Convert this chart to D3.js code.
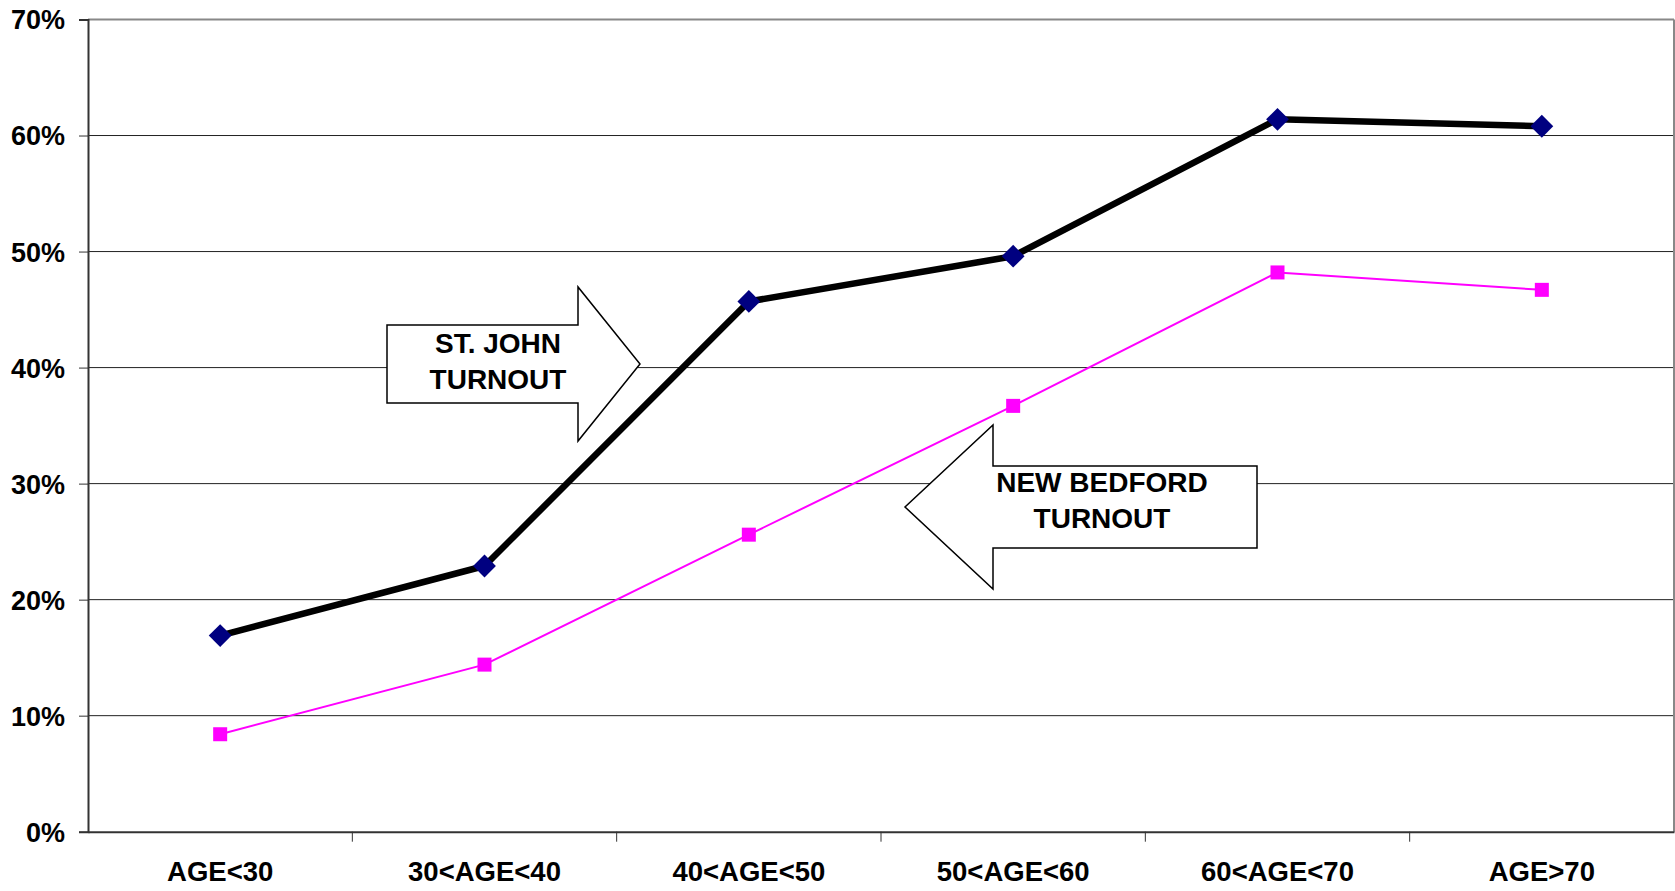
<!DOCTYPE html>
<html lang="en">
  <head>
    <meta charset="UTF-8" />
    <title>Turnout by age</title>
    <style>
      body { margin: 0; background: #fff; }
      svg text { font-family: "Liberation Sans", Arial, sans-serif; font-weight: bold; }
    </style>
  </head>
  <body>
  <script src="https://d3js.org/d3.v7.min.js"></script>
  <script>

var categories = ["AGE<30", "30<AGE<40", "40<AGE<50", "50<AGE<60", "60<AGE<70", "AGE>70"];
var stJohn = [0.169, 0.229, 0.457, 0.496, 0.614, 0.608];
var newBedford = [0.084, 0.144, 0.256, 0.367, 0.482, 0.467];
var yTicks = [0, 0.1, 0.2, 0.3, 0.4, 0.5, 0.6, 0.7];

var w = 1675, h = 891;
var plotLeft = 88, plotRight = 1674, plotTop = 19.5, plotBottom = 831.7;

var svg = d3.select("body").append("svg")
            .attr("width", w)
            .attr("height", h);

var x = d3.scaleBand().domain(categories).range([plotLeft, plotRight]).padding(0);
var y = d3.scaleLinear().domain([0, 0.7]).range([plotBottom, plotTop]);

// gridlines
svg.selectAll("line.grid")
   .data(yTicks.slice(1, -1))
   .enter()
   .append("line")
   .attr("class", "grid")
   .attr("x1", plotLeft).attr("x2", plotRight)
   .attr("y1", function(d) { return y(d); })
   .attr("y2", function(d) { return y(d); })
   .attr("stroke", "#222")
   .attr("stroke-width", 1);

// plot frame top / right
svg.append("line").attr("x1", plotLeft).attr("x2", plotRight).attr("y1", plotTop).attr("y2", plotTop)
   .attr("stroke", "#888").attr("stroke-width", 2);
svg.append("line").attr("x1", plotRight).attr("x2", plotRight).attr("y1", plotTop).attr("y2", plotBottom)
   .attr("stroke", "#888").attr("stroke-width", 2);

// y axis
var yAxis = d3.axisLeft(y).tickValues(yTicks).tickFormat(d3.format(".0%")).tickSize(9).tickPadding(14);
var gy = svg.append("g").attr("transform", "translate(" + plotLeft + ",0)").call(yAxis);
gy.select(".domain").attr("stroke", "#333").attr("stroke-width", 2);
gy.selectAll(".tick line").attr("stroke", "#333");
gy.selectAll("text").style("font-size", "27px").attr("fill", "#000").attr("dy", "0.35em");

// x axis
var xAxis = d3.axisBottom(x).tickSize(0).tickPadding(30);
var gx = svg.append("g").attr("transform", "translate(0," + plotBottom + ")").call(xAxis);
gx.select(".domain").attr("stroke", "#333").attr("stroke-width", 2);
gx.selectAll("text").style("font-size", "27.5px").attr("fill", "#000");
gx.selectAll("line.sep")
  .data(categories.slice(1))
  .enter()
  .append("line")
  .attr("class", "sep")
  .attr("x1", function(d) { return x(d); })
  .attr("x2", function(d) { return x(d); })
  .attr("y1", 0).attr("y2", 10)
  .attr("stroke", "#333");

function cx(d, i) { return x(categories[i]) + x.bandwidth() / 2; }

var line = d3.line().x(cx).y(function(d) { return y(d); });

// New Bedford
svg.append("path").datum(newBedford)
   .attr("d", line).attr("fill", "none")
   .attr("stroke", "#ff00ff").attr("stroke-width", 2);
svg.selectAll("rect.nb")
   .data(newBedford)
   .enter()
   .append("rect")
   .attr("class", "nb")
   .attr("x", function(d, i) { return cx(d, i) - 7; })
   .attr("y", function(d) { return y(d) - 7; })
   .attr("width", 14).attr("height", 14)
   .attr("fill", "#ff00ff");

// St. John
svg.append("path").datum(stJohn)
   .attr("d", line).attr("fill", "none")
   .attr("stroke", "#000").attr("stroke-width", 6.5)
   .attr("stroke-linejoin", "round");
svg.selectAll("path.sj")
   .data(stJohn)
   .enter()
   .append("path")
   .attr("class", "sj")
   .attr("d", d3.symbol().type(d3.symbolSquare).size(260))
   .attr("transform", function(d, i) { return "translate(" + cx(d, i) + "," + y(d) + ") rotate(45)"; })
   .attr("fill", "#000080");

// annotation arrows
var arrows = [
  { pts: [[387, 325], [578, 325], [578, 287], [640, 364], [578, 441], [578, 403], [387, 403]],
    lines: ["ST. JOHN", "TURNOUT"], tx: 498, ty: [353, 389], size: 28 },
  { pts: [[1257, 466], [993, 466], [993, 425], [905, 507], [993, 589], [993, 548], [1257, 548]],
    lines: ["NEW BEDFORD", "TURNOUT"], tx: 1102, ty: [492, 528], size: 28 }
];

arrows.forEach(function(a) {
  svg.append("polygon")
     .attr("points", a.pts.map(function(p) { return p.join(","); }).join(" "))
     .attr("fill", "#fff").attr("stroke", "#000").attr("stroke-width", 1.5);
  a.lines.forEach(function(t, i) {
    svg.append("text").attr("x", a.tx).attr("y", a.ty[i])
       .attr("text-anchor", "middle").style("font-size", a.size + "px")
       .text(t);
  });
});

  </script>
  </body>
</html>
